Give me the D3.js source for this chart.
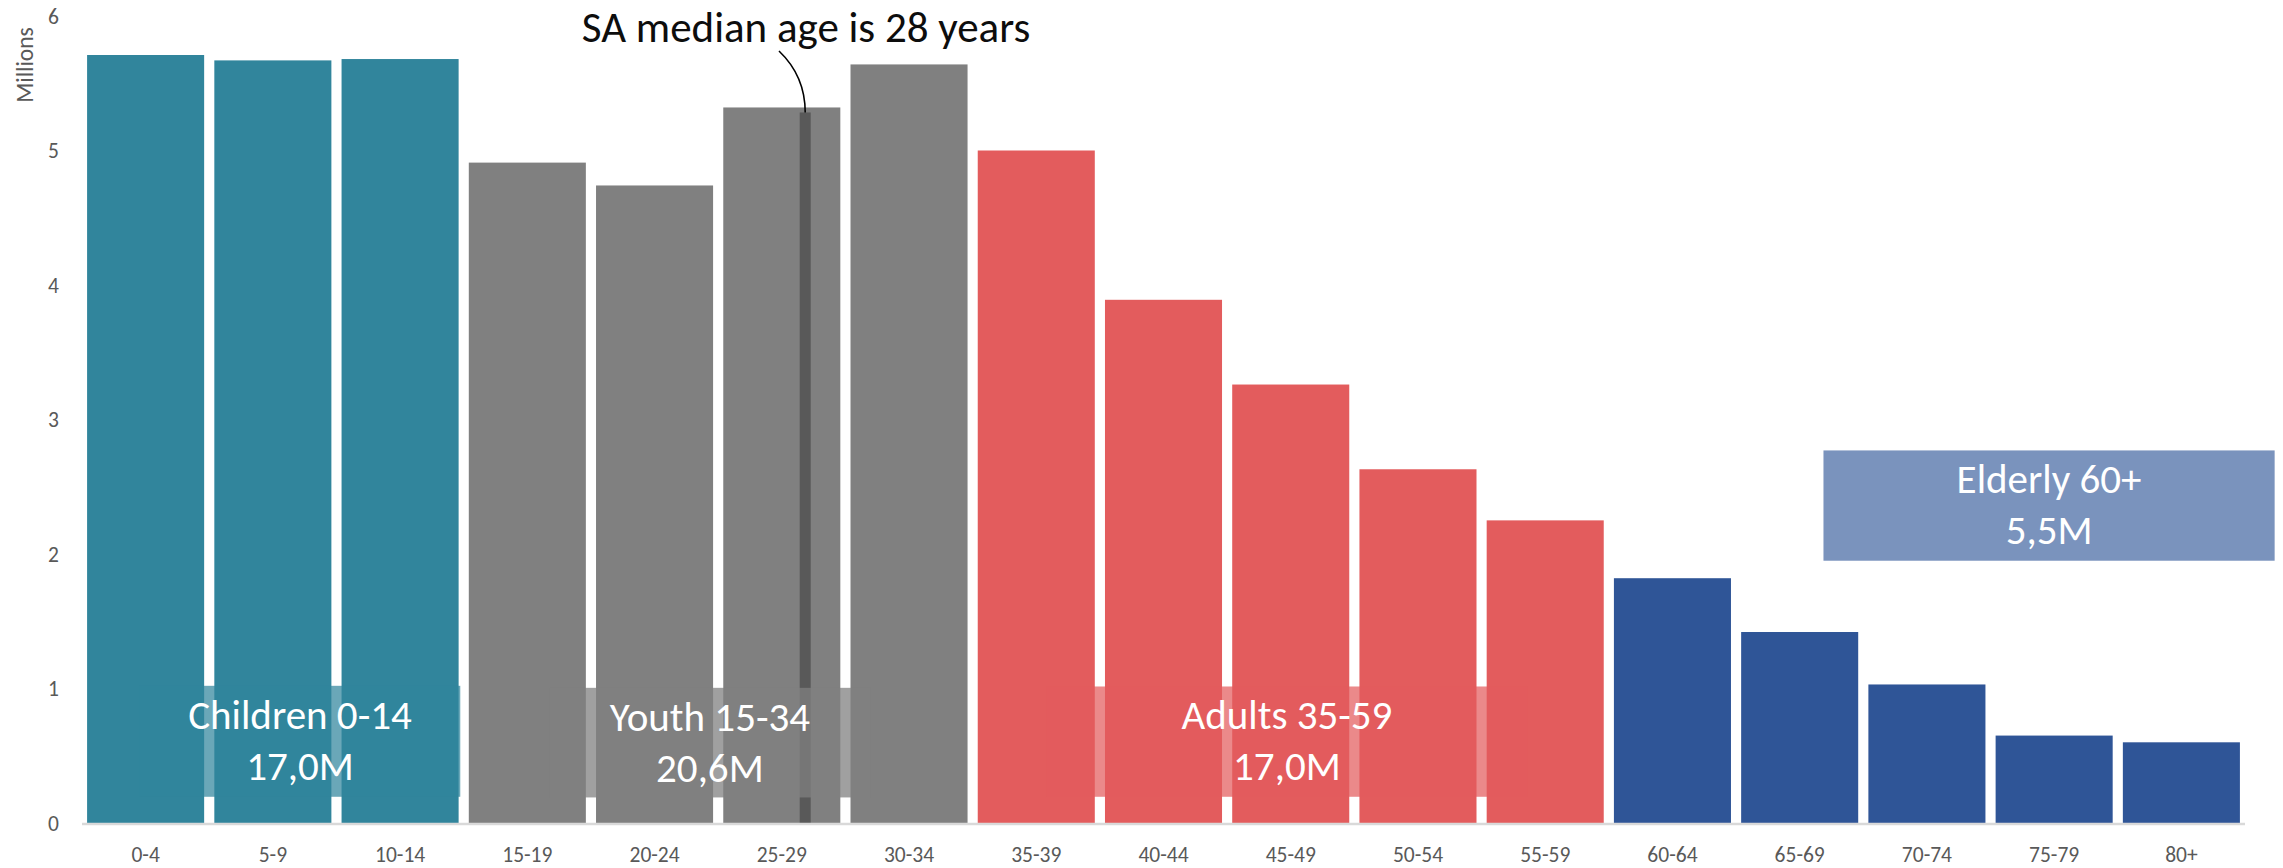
<!DOCTYPE html>
<html>
<head>
<meta charset="utf-8">
<script src="https://cdn.jsdelivr.net/npm/d3@7"></script>
<style>
  html, body { margin: 0; padding: 0; background: #ffffff; }
  svg { display: block; }
  text { font-family: Carlito, Calibri, Lato, "Open Sans", sans-serif; }
</style>
</head>
<body>
<svg id="chart" width="2283" height="868"></svg>
<script>
// ---- data ----
const categories = ["0-4","5-9","10-14","15-19","20-24","25-29","30-34","35-39","40-44","45-49","50-54","55-59","60-64","65-69","70-74","75-79","80+"];
const values = [5.71, 5.67, 5.68, 4.91, 4.74, 5.32, 5.64, 5.00, 3.89, 3.26, 2.63, 2.25, 1.82, 1.42, 1.03, 0.65, 0.60];
const groupNames = ["Children 0-14", "Youth 15-34", "Adults 35-59", "Elderly 60+"];
const groupTotals = ["17,0M", "20,6M", "17,0M", "5,5M"];
const groupFirst = [0, 3, 7, 12];
const groupLast = [2, 6, 11, 16];
const yTicks = [0, 1, 2, 3, 4, 5, 6];
const yTitle = "Millions";
const medianAge = 28;
const medianLabel = "SA median age is 28 years";

// ---- styles ----
const groupColors = ["#31859C", "#808080", "#E35C5D", "#2F5597"];
const groupOf = i => groupFirst.findIndex((f, g) => i >= f && i <= groupLast[g]);

const svg = d3.select("#chart");
const x = d3.scaleBand().domain(categories).range([82, 2245]).paddingInner(0.08).paddingOuter(0.04);
const y = d3.scaleLinear().domain([0, 6]).range([823, 16]);
const xs = s => x.range()[0] + s * x.step();   // position in category-step units

// bars
svg.append("g").selectAll("rect").data(values).join("rect")
  .attr("x", (d, i) => x(categories[i]))
  .attr("y", d => y(d))
  .attr("width", x.bandwidth())
  .attr("height", d => y(0) - y(d))
  .attr("fill", (d, i) => groupColors[groupOf(i)]);

// median marker inside 25-29 bar
const medCat = categories[5];
const medX = x(medCat) + x.bandwidth() * ((medianAge + 0.5 - 25) / 5);
svg.append("rect")
  .attr("x", medX - 5.5).attr("y", y(values[5]) + 5)
  .attr("width", 11).attr("height", y(0) - y(values[5]) - 5)
  .attr("fill", "#595959");

// x axis line
svg.append("line")
  .attr("x1", x.range()[0]).attr("x2", x.range()[1])
  .attr("y1", y(0) + 1).attr("y2", y(0) + 1)
  .attr("stroke", "#D9D9D9").attr("stroke-width", 2.5);

// x labels
const xAxis = d3.axisBottom(x).tickSize(0).tickPadding(0);
const gx = svg.append("g").attr("transform", `translate(0,${y(0)})`).call(xAxis);
gx.select(".domain").remove();
gx.selectAll("text")
  .attr("y", 39).attr("dy", 0)
  .attr("fill", "#595959")
  .style("font-size", "21.5px")
  .style("font-family", "Carlito, Calibri, Lato, sans-serif");

// y labels
const yAxis = d3.axisLeft(y).tickValues(yTicks).tickSize(0).tickPadding(0).tickFormat(d3.format("d"));
const gy = svg.append("g").attr("transform", "translate(59,0)").call(yAxis);
gy.select(".domain").remove();
gy.selectAll("text")
  .attr("fill", "#595959")
  .attr("dy", "0.34em")
  .style("font-size", "21.5px")
  .style("font-family", "Carlito, Calibri, Lato, sans-serif");

// y title
svg.append("text")
  .attr("transform", "translate(33,65) rotate(-90)")
  .attr("text-anchor", "middle")
  .attr("fill", "#595959")
  .style("font-size", "23.5px")
  .text(yTitle);

// group label boxes (center, half-width in category steps; top/bottom in value units)
const boxCenter = [1.713, 4.935, 9.47, 15.46];
const boxHalf = [1.26, 1.26, 1.89, 1.773];
const boxTop = [1.02, 1.005, 1.015, 2.77];
const boxBottom = [0.195, 0.19, 0.195, 1.95];
const boxFill = ["#31859C", "#808080", "#E35C5D", "#7A93BD"];
const boxOpacity = [0.72, 0.75, 0.72, 1];

groupNames.forEach((name, g) => {
  const cx = xs(boxCenter[g]);
  const hw = boxHalf[g] * x.step();
  const top = y(boxTop[g]);
  svg.append("rect")
    .attr("x", cx - hw).attr("y", top)
    .attr("width", 2 * hw).attr("height", y(boxBottom[g]) - top)
    .attr("fill", boxFill[g]).attr("fill-opacity", boxOpacity[g]);
  svg.append("text")
    .attr("x", cx).attr("y", top + 43)
    .attr("text-anchor", "middle").attr("fill", "#ffffff")
    .style("font-size", "41px")
    .text(name);
  svg.append("text")
    .attr("x", cx).attr("y", top + 94)
    .attr("text-anchor", "middle").attr("fill", "#ffffff")
    .style("font-size", "41px")
    .text(groupTotals[g]);
});

// median annotation
svg.append("text")
  .attr("x", 806).attr("y", 42)
  .attr("text-anchor", "middle").attr("fill", "#0D0D0D")
  .style("font-size", "43px")
  .text(medianLabel);
const topY = y(values[5]) + 5;
svg.append("path")
  .attr("d", `M779,51 Q${medX},76 ${medX},${topY}`)
  .attr("fill", "none").attr("stroke", "#000").attr("stroke-width", 1.6);
</script>
</body>
</html>
